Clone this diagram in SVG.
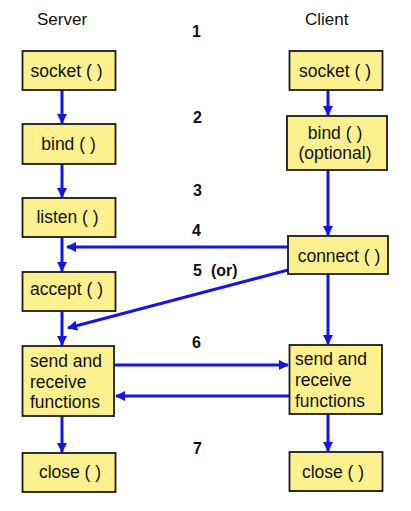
<svg xmlns="http://www.w3.org/2000/svg" width="411" height="511" viewBox="0 0 411 511">
<style>
.box{fill:#FCF08F;stroke:#1a1a1a;stroke-width:1.8}
.t{font-family:"Liberation Sans",Arial,sans-serif;font-size:17.5px;fill:#111}
.h{font-family:"Liberation Sans",Arial,sans-serif;font-size:17px;fill:#111}
.n{font-family:"Liberation Sans",Arial,sans-serif;font-size:16px;font-weight:bold;fill:#111}
.c{stroke:#1515E6;stroke-width:3;fill:none}
</style>
<defs>
<marker id="ah" viewBox="0 0 10 10" refX="9" refY="5" markerWidth="3.4" markerHeight="3.4" orient="auto" markerUnits="strokeWidth">
<path d="M0,0 L10,5 L0,10 Z" fill="#1515E6"/>
</marker>
</defs>
<rect width="411" height="511" fill="#fff"/>
<g id="labels">
<text class="h" x="37" y="25">Server</text>
<text class="h" x="305" y="25">Client</text>
<text class="n" x="192" y="37">1</text>
<text class="n" x="193" y="123">2</text>
<text class="n" x="193" y="196">3</text>
<text class="n" x="192" y="236">4</text>
<text class="n" x="193" y="276">5</text>
<text class="n" x="211" y="276">(or)</text>
<text class="n" x="192" y="348">6</text>
<text class="n" x="193" y="454">7</text>
</g>
<g id="connectors">
<line class="c" x1="62" y1="90" x2="62" y2="123" marker-end="url(#ah)"/>
<line class="c" x1="62" y1="164" x2="62" y2="197" marker-end="url(#ah)"/>
<line class="c" x1="62" y1="237" x2="62" y2="271" marker-end="url(#ah)"/>
<line class="c" x1="62" y1="311" x2="62" y2="345" marker-end="url(#ah)"/>
<line class="c" x1="62" y1="416" x2="62" y2="452" marker-end="url(#ah)"/>
<line class="c" x1="328" y1="90" x2="328" y2="115" marker-end="url(#ah)"/>
<line class="c" x1="328" y1="170" x2="328" y2="235" marker-end="url(#ah)"/>
<line class="c" x1="328" y1="274" x2="328" y2="344" marker-end="url(#ah)"/>
<line class="c" x1="328" y1="414" x2="328" y2="451" marker-end="url(#ah)"/>
<line class="c" x1="288" y1="247" x2="67" y2="247" marker-end="url(#ah)"/>
<line class="c" x1="288" y1="270" x2="68" y2="328" marker-end="url(#ah)"/>
<line class="c" x1="114" y1="365" x2="288" y2="365" marker-end="url(#ah)"/>
<line class="c" x1="289" y1="396" x2="116" y2="396" marker-end="url(#ah)"/>
</g>
<g id="server-socket"><rect class="box" x="22.5" y="51" width="93" height="39"/><text class="t" x="66.5" y="77" text-anchor="middle">socket ( )</text></g>
<g id="server-bind"><rect class="box" x="22.5" y="124" width="93" height="40"/><text class="t" x="68.5" y="150" text-anchor="middle">bind ( )</text></g>
<g id="server-listen"><rect class="box" x="22.5" y="198" width="93" height="39"/><text class="t" x="67.5" y="223" text-anchor="middle">listen ( )</text></g>
<g id="server-accept"><rect class="box" x="22.5" y="272" width="93" height="39"/><text class="t" x="66.5" y="295" text-anchor="middle">accept ( )</text></g>
<g id="server-send"><rect class="box" x="22.5" y="346" width="91.5" height="70"/><text class="t" x="30" y="367">send and</text><text class="t" x="30" y="388">receive</text><text class="t" x="30" y="408">functions</text></g>
<g id="server-close"><rect class="box" x="22.5" y="453" width="93" height="39"/><text class="t" x="70" y="478" text-anchor="middle">close ( )</text></g>
<g id="client-socket"><rect class="box" x="289.5" y="51" width="93" height="39"/><text class="t" x="335" y="77" text-anchor="middle">socket ( )</text></g>
<g id="client-bind"><rect class="box" x="287" y="116" width="100" height="54"/><text class="t" x="335" y="139" text-anchor="middle">bind ( )</text><text class="t" x="335" y="159" text-anchor="middle">(optional)</text></g>
<g id="client-connect"><rect class="box" x="288" y="236" width="100" height="38"/><text class="t" x="339" y="262" text-anchor="middle">connect ( )</text></g>
<g id="client-send"><rect class="box" x="289.5" y="345" width="92.5" height="69"/><text class="t" x="295" y="365">send and</text><text class="t" x="295" y="386">receive</text><text class="t" x="295" y="407">functions</text></g>
<g id="client-close"><rect class="box" x="289.5" y="452" width="93" height="39"/><text class="t" x="333" y="478" text-anchor="middle">close ( )</text></g>
</svg>
